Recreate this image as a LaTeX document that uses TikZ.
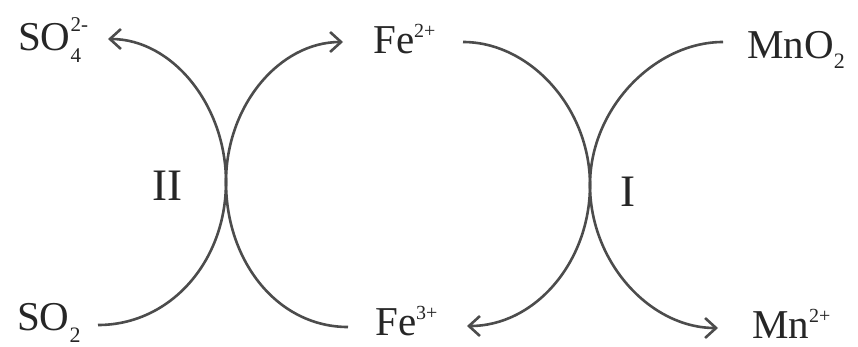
\documentclass[tikz,border=0pt]{standalone}
\usepackage{fontspec}
\setmainfont{Liberation Serif}
\usetikzlibrary{arrows.meta}
\newcommand{\chsup}[2][0.38em]{\raisebox{#1}{\fontsize{20}{20}\selectfont #2}}
\newcommand{\chsub}[2][-0.3em]{\raisebox{#1}{\fontsize{22}{22}\selectfont #2}}
\newcommand{\chsupsub}[2]{\raisebox{-0.31em}{\fontsize{21}{21}\selectfont\begin{tabular}[b]{@{}l@{}}#1\\[10pt]#2\end{tabular}}}
\begin{document}
\begin{tikzpicture}[x=1pt,y=-1pt,
  lbl/.style={anchor=base west,inner sep=0pt,text=black!85,font=\fontsize{41}{41}\selectfont},
  roman/.style={anchor=base west,inner sep=0pt,text=black!85,font=\fontsize{45}{45}\selectfont},
  conn/.style={draw=black!70,line width=2.6pt},
  tip/.style={-{Straight Barb[length=11pt,width=20pt,line width=2.6pt]}}]
\useasboundingbox (0,0) rectangle (858,346);
% labels
\node[lbl] (so4) at (18,50) {SO\chsupsub{2-}{4}};
\node[lbl] (fe2) at (373,53) {Fe\chsup{2+}};
\node[lbl] (mno2) at (747,58) {MnO\chsub[-0.25em]{2}};
\node[lbl] (so2) at (17,330) {SO\chsub{2}};
\node[lbl] (fe3) at (375,335) {Fe\chsup{3+}};
\node[lbl] (mn2) at (752,338) {Mn\chsup{2+}};
\node[roman] (r2) at (152,200) {II};
\node[roman] (r1) at (620,206) {I};
% junctions and free ends
\coordinate (j2) at (226,182);
\coordinate (j1) at (590,185);
\coordinate (so4t) at (108,39);
\coordinate (fe2t) at (343,42);
\coordinate (so2e) at (98,325);
\coordinate (fe3e) at (348,327);
\coordinate (fe2e) at (463,42);
\coordinate (mno2e) at (723,42);
\coordinate (fe3t) at (467,326);
\coordinate (mn2t) at (718,328);
% cycle II
\draw[conn,tip] (j2) .. controls (226,105) and (172,39) .. (so4t);
\draw[conn,tip] (j2) .. controls (226,105) and (280,42) .. (fe2t);
\draw[conn] (so2e) .. controls (170,325) and (226,262) .. (j2);
\draw[conn] (fe3e) .. controls (278,327) and (226,262) .. (j2);
% cycle I
\draw[conn] (fe2e) .. controls (530,42) and (590,108) .. (j1);
\draw[conn] (mno2e) .. controls (655,42) and (590,108) .. (j1);
\draw[conn,tip] (j1) .. controls (590,262) and (535,326) .. (fe3t);
\draw[conn,tip] (j1) .. controls (590,262) and (650,328) .. (mn2t);
\end{tikzpicture}
\end{document}
